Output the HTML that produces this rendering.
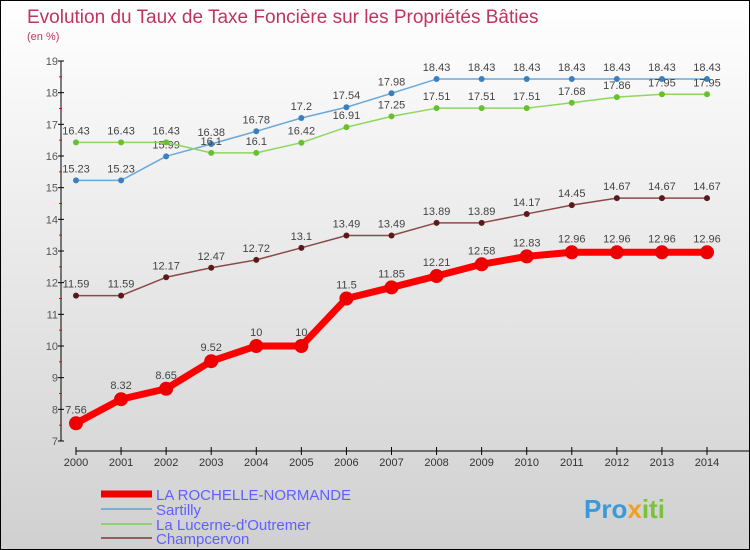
<!DOCTYPE html>
<html><head><meta charset="utf-8"><style>
body{margin:0}
#c{width:750px;height:550px;position:relative;box-sizing:border-box;border:1px solid #000;background:linear-gradient(#ffffff,#d0d0d0);font-family:"Liberation Sans",sans-serif;overflow:hidden}
</style></head><body>
<div id="c">
<svg id="s" width="748" height="548" style="position:absolute;left:0;top:0" font-family="Liberation Sans, sans-serif">
<text x="26" y="22" font-size="19" fill="#c0345e">Evolution du Taux de Taxe Foncière sur les Propriétés Bâties</text>
<text x="26" y="39" font-size="11" fill="#c0345e">(en %)</text>
<g id="axes"></g><g id="series"></g><g id="legend"></g>
<text x="583" y="517" font-size="26" font-weight="bold" fill="#3a9ad9">Pro<tspan fill="#f0a020">x</tspan><tspan fill="#7cc040">iti</tspan></text>
</svg>
</div>
<script>
const years=[2000,2001,2002,2003,2004,2005,2006,2007,2008,2009,2010,2011,2012,2013,2014];
const yTicks=[7,8,9,10,11,12,13,14,15,16,17,18,19];
const rochelle=[7.56,8.32,8.65,9.52,10,10,11.5,11.85,12.21,12.58,12.83,12.96,12.96,12.96,12.96];
const sartilly=[15.23,15.23,15.99,16.38,16.78,17.2,17.54,17.98,18.43,18.43,18.43,18.43,18.43,18.43,18.43];
const lucerne=[16.43,16.43,16.43,16.1,16.1,16.42,16.91,17.25,17.51,17.51,17.51,17.68,17.86,17.95,17.95];
const champ=[11.59,11.59,12.17,12.47,12.72,13.1,13.49,13.49,13.89,13.89,14.17,14.45,14.67,14.67,14.67];
const NS="http://www.w3.org/2000/svg";
function xs(i){return 75+i*(706-75)/(years.length-1);}
function ys(v){return 440-(v-7)*(380/12);}
function mk(tag,attrs,parent,txt){const e=document.createElementNS(NS,tag);for(const k in attrs)e.setAttribute(k,attrs[k]);if(txt!==undefined)e.textContent=txt;parent.appendChild(e);return e;}
const ax=document.getElementById('axes');
let l=mk('line',{x1:60,y1:ys(19),x2:60,y2:ys(7),stroke:'#000'},ax);


yTicks.forEach(t=>{
  mk('line',{x1:57,y1:ys(t),x2:63,y2:ys(t),stroke:'#000'},ax);
  if(t<19)mk('line',{x1:58,y1:ys(t+0.5),x2:61,y2:ys(t+0.5),stroke:'#f00'},ax);
  const tx=mk('text',{x:57,y:ys(t)+4,'font-size':11,fill:'#555','text-anchor':'end'},ax,String(t));
  
  
});
l=mk('line',{x1:75,y1:450,x2:748,y2:450,stroke:'#000'},ax);


years.forEach((y,i)=>{
  mk('line',{x1:xs(i),y1:446,x2:xs(i),y2:454,stroke:'#000'},ax);
  const tx=mk('text',{x:xs(i),y:465,'font-size':11,fill:'#333','text-anchor':'middle'},ax,String(y));
  
  
});
const sg=document.getElementById('series');
function draw(data,color,dot,w,r,name){
  const g=mk('g',{},sg);
  
  
  mk('polyline',{points:data.map((v,i)=>xs(i)+','+ys(v)).join(' '),fill:'none',stroke:color,'stroke-width':w,'stroke-linejoin':'round'},g);
  data.forEach((v,i)=>{
    const c=mk('circle',{cx:xs(i),cy:ys(v),r:r,fill:dot},g);
    
    
    const t=mk('text',{x:xs(i),y:ys(v)-8-(r>4?2:0),'font-size':11,fill:'#444','text-anchor':'middle'},g,String(v));
    
    
  });
}
draw(sartilly,'#6aa8d8','#3a80c0',1.5,3,'sartilly-series');
draw(lucerne,'#8ed65e','#66c030',1.5,3,'lucerne-series');
draw(champ,'#8a4a4a','#5a1a1a',1.5,3,'champcervon-series');
draw(rochelle,'#ff0000','#ee0000',7,7,'rochelle-series');
const lg=document.getElementById('legend');
const leg=[['LA ROCHELLE-NORMANDE','#ee0000',7,493],['Sartilly','#7ab0d0',2,508],['La Lucerne-d\'Outremer','#90d070',2,523],['Champcervon','#906060',2,537]];
leg.forEach(e=>{
  const g=mk('g',{},lg);
  
  
  mk('line',{x1:100,y1:e[3],x2:151,y2:e[3],stroke:e[1],'stroke-width':e[2]},g);
  mk('text',{x:155,y:e[3]+6,'font-size':15,fill:'#5f5fff'},g,e[0]);
});
</script>
</body></html>
